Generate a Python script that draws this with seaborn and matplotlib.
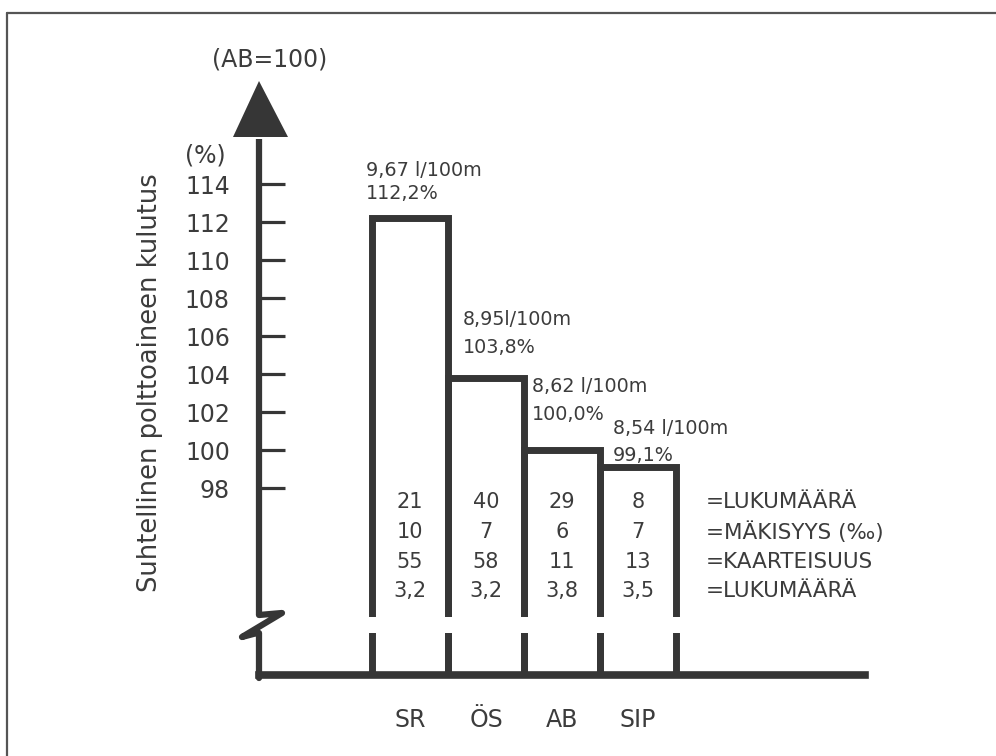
"""
Relative fuel consumption by route (AB = 100), with a broken y axis
and a small table of route characteristics under the bars.
"""
import matplotlib
matplotlib.use("Agg")
import pandas as pd
from matplotlib import pyplot as plt
from matplotlib.patches import Polygon
import seaborn as sns

# Data
categories = ["SR", "ÖS", "AB", "SIP"]
rel_consumption = [112.2, 103.8, 100.0, 99.1]
consumption_text = ["9,67 l/100m", "8,95l/100m", "8,62 l/100m", "8,54 l/100m"]
row_lukumaara = [21, 40, 29, 8]
row_makisyys = [10, 7, 6, 7]
row_kaarteisuus = [55, 58, 11, 13]
row_lukumaara2 = [3.2, 3.2, 3.8, 3.5]
row_labels = ["=LUKUMÄÄRÄ", "=MÄKISYYS (‰)", "=KAARTEISUUS", "=LUKUMÄÄRÄ"]
y_ticks = [98, 100, 102, 104, 106, 108, 110, 112, 114]


def fi(x, nd=1):
    return f"{x:.{nd}f}".replace(".", ",")


W, H = 996, 756
dark = "#363636"
text_c = "#3c3c3c"

sns.set_style("white")
plt.rcParams["font.family"] = ["DejaVu Sans"]

fig = plt.figure(figsize=(W / 100, H / 100), dpi=100)

# main axes placed in pixels: y axis at x=259, baseline at y=675
ax_l, ax_r, ax_b, ax_t = 259, 865, 675, 137
ax = fig.add_axes([ax_l / W, (H - ax_b) / H, (ax_r - ax_l) / W, (ax_b - ax_t) / H])

df = pd.DataFrame({"route": categories, "value": rel_consumption})
sns.barplot(
    data=df, x="route", y="value", width=1, fill=False,
    color=dark, linewidth=5, ax=ax, zorder=3,
)
for p in ax.patches:
    p.set_joinstyle("miter")

# scale: 19 px per unit, 100 at y=450 px; 76 px per bar, SR centre at 410 px
ax.set_ylim(100 - (ax_b - 450) / 19, 100 + (450 - ax_t) / 19)
ax.set_xlim((ax_l - 410) / 76, (ax_r - 410) / 76)

# break in the bars
ax.axhspan(100 - (633 - 450) / 19, 100 - (617 - 450) / 19,
           xmin=0.17, xmax=0.71, color="white", zorder=4, lw=0)

for s in ["left", "top", "right"]:
    ax.spines[s].set_visible(False)
ax.spines["bottom"].set_color(dark)
ax.spines["bottom"].set_linewidth(5.5)
ax.spines["bottom"].set_zorder(5)

ax.set_yticks(y_ticks)
ax.set_yticklabels([str(t) for t in y_ticks])
ax.tick_params(axis="y", direction="in", length=18.5, width=2.3, color=dark,
               labelsize=17, labelcolor=text_c, pad=21, left=True)
ax.tick_params(axis="x", length=0, pad=24, labelsize=17, labelcolor=text_c)
ax.set_xlabel("")
ax.set_ylabel("")

# value labels above each bar (offsets in pixels from the bar's left top corner)
label_dx = [-6, 15, 8, 13]
label_dy = [(48, 25), (58, 30), (63, 35), (39, 12)]
for i, v in enumerate(rel_consumption):
    ax.annotate(consumption_text[i], xy=(i - 0.5, v),
                xytext=(label_dx[i], label_dy[i][0]), textcoords="offset pixels",
                ha="left", va="center", fontsize=13.8, color=text_c)
    ax.annotate(fi(v) + "%", xy=(i - 0.5, v),
                xytext=(label_dx[i], label_dy[i][1]), textcoords="offset pixels",
                ha="left", va="center", fontsize=13.8, color=text_c)

# table of route characteristics
rows = [
    [str(x) for x in row_lukumaara],
    [str(x) for x in row_makisyys],
    [str(x) for x in row_kaarteisuus],
    [fi(x) for x in row_lukumaara2],
]
row_y = [100 - (502 - 450) / 19, 100 - (532 - 450) / 19,
         100 - (562 - 450) / 19, 100 - (591 - 450) / 19]
for r, vals in enumerate(rows):
    for i, t in enumerate(vals):
        ax.text(i, row_y[r], t, ha="center", va="center",
                fontsize=15, color=text_c)
    ax.text((706 - 410) / 76, row_y[r], row_labels[r], ha="left", va="center",
            fontsize=15.5, color=text_c)

# overlay in pixel coordinates for the decorations
ov = fig.add_axes([0, 0, 1, 1])
ov.set_xlim(0, W)
ov.set_ylim(H, 0)
ov.axis("off")
ov.patch.set_visible(False)

# page frame (top and left edges only)
ov.plot([7, W], [13, 13], color="#555555", lw=1.6)
ov.plot([7, 7], [13, H], color="#555555", lw=1.6)

# y axis with break and arrow
ov.plot([ax_l, ax_l], [ax_t + 2, 615], color=dark, lw=4.5, solid_capstyle="butt")
ov.plot([ax_l, 282, 242, 257, ax_l, ax_l], [615, 613, 637, 633, 633, ax_b + 3],
        color=dark, lw=4.5, solid_joinstyle="round", solid_capstyle="round")
ov.add_patch(Polygon([[233, 137], [288, 137], [259, 81]], closed=True,
                     color=dark, lw=0))

ov.text(270, 60, "(AB=100)", ha="center", va="center", fontsize=17, color=text_c)
ov.text(205, 155, "(%)", ha="center", va="center", fontsize=17, color=text_c)
ov.text(150, 383, "Suhtellinen polttoaineen kulutus", rotation=90,
        ha="center", va="center", fontsize=18.5, color=text_c)

fig.savefig("out.png", dpi=100)
